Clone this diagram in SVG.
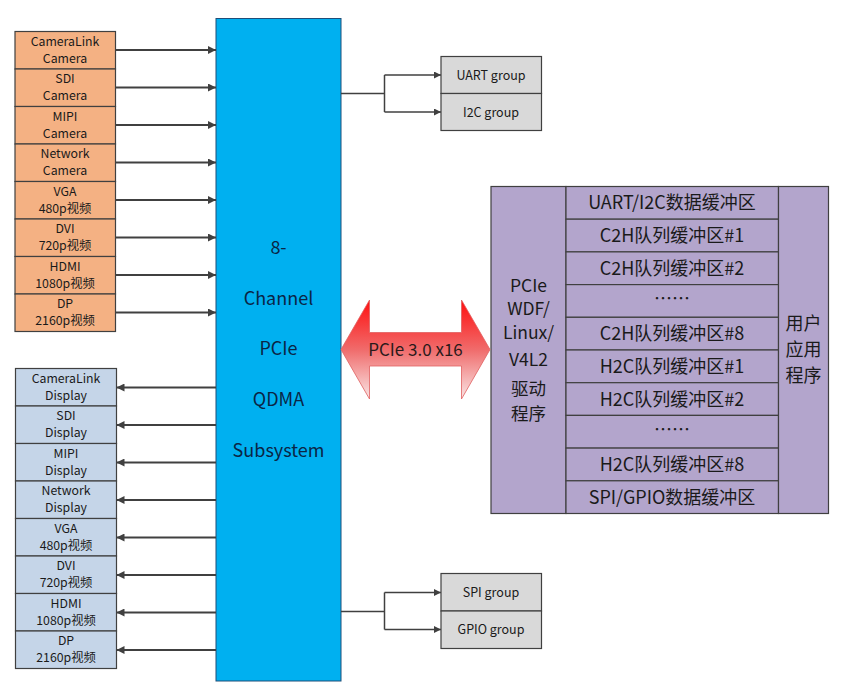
<svg xmlns="http://www.w3.org/2000/svg" width="841" height="699" viewBox="0 0 841 699">
<defs>
<style>
text{font-family:"Noto Sans CJK SC","Noto Sans",sans-serif;text-anchor:middle;}
.src rect{fill:#F4B183;stroke:#404040;stroke-width:1.2;}
.dst rect{fill:#C5D5E8;stroke:#404040;stroke-width:1.2;}
.grp rect{fill:#D9D9D9;stroke:#404040;stroke-width:1.2;}
.drv rect{fill:#B3A5CC;stroke:#404040;stroke-width:1.2;}
.small{font-size:12.3px;fill:#1a1a1a;}
.grpt{font-size:12.5px;fill:#1a1a1a;}
.big{font-size:18px;fill:#1a1a1a;}
.side{font-size:17.5px;fill:#1a1a1a;}
.core{font-size:18px;fill:#0B2545;}
.conn line,.conn polyline{stroke:#404040;fill:none;}
</style>
<marker id="ah" viewBox="0 0 10 10" refX="10" refY="5" markerWidth="9" markerHeight="8" markerUnits="userSpaceOnUse" orient="auto">
<path d="M0,0 L10,5 L0,10 z" fill="#404040"/>
</marker>
<marker id="ah2" viewBox="0 0 10 10" refX="10" refY="5" markerWidth="8" markerHeight="7" markerUnits="userSpaceOnUse" orient="auto">
<path d="M0,0 L10,5 L0,10 z" fill="#404040"/>
</marker>
<linearGradient id="red" x1="0" y1="0" x2="0" y2="1">
<stop offset="0" stop-color="#FF0F0F"/>
<stop offset="0.5" stop-color="#F06B6B"/>
<stop offset="1" stop-color="#F9E6E6"/>
</linearGradient>
</defs>

<g id="core">
<rect x="216" y="18.5" width="125" height="662.5" fill="#00B0F0" stroke="#1F4E79" stroke-width="1"/>
<text class="core" x="278.5" y="254">8-</text>
<text class="core" x="278.5" y="305">Channel</text>
<text class="core" x="278.5" y="355">PCIe</text>
<text class="core" x="278.5" y="406">QDMA</text>
<text class="core" x="278.5" y="457">Subsystem</text>
</g>

<g id="src-cameralink" class="src"><rect x="15" y="31.5" width="100.5" height="37.5"/><text class="small" x="65" y="45.5">CameraLink</text><text class="small" x="65" y="62.5">Camera</text></g>
<g id="src-sdi" class="src"><rect x="15" y="69" width="100.5" height="37.5"/><text class="small" x="65" y="83">SDI</text><text class="small" x="65" y="100">Camera</text></g>
<g id="src-mipi" class="src"><rect x="15" y="106.5" width="100.5" height="37.5"/><text class="small" x="65" y="120.5">MIPI</text><text class="small" x="65" y="137.5">Camera</text></g>
<g id="src-network" class="src"><rect x="15" y="144" width="100.5" height="37.5"/><text class="small" x="65" y="158">Network</text><text class="small" x="65" y="175">Camera</text></g>
<g id="src-vga" class="src"><rect x="15" y="181.5" width="100.5" height="37.5"/><text class="small" x="65" y="195.5">VGA</text><text class="small" x="65" y="212.5">480p视频</text></g>
<g id="src-dvi" class="src"><rect x="15" y="219" width="100.5" height="37.5"/><text class="small" x="65" y="233">DVI</text><text class="small" x="65" y="250">720p视频</text></g>
<g id="src-hdmi" class="src"><rect x="15" y="256.5" width="100.5" height="37.5"/><text class="small" x="65" y="270.5">HDMI</text><text class="small" x="65" y="287.5">1080p视频</text></g>
<g id="src-dp" class="src"><rect x="15" y="294" width="100.5" height="37.5"/><text class="small" x="65" y="308">DP</text><text class="small" x="65" y="325">2160p视频</text></g>

<g id="dst-cameralink" class="dst"><rect x="15.5" y="368.5" width="101" height="37.5"/><text class="small" x="66" y="382.5">CameraLink</text><text class="small" x="66" y="399.5">Display</text></g>
<g id="dst-sdi" class="dst"><rect x="15.5" y="406" width="101" height="37.5"/><text class="small" x="66" y="420">SDI</text><text class="small" x="66" y="437">Display</text></g>
<g id="dst-mipi" class="dst"><rect x="15.5" y="443.5" width="101" height="37.5"/><text class="small" x="66" y="457.5">MIPI</text><text class="small" x="66" y="474.5">Display</text></g>
<g id="dst-network" class="dst"><rect x="15.5" y="481" width="101" height="37.5"/><text class="small" x="66" y="495">Network</text><text class="small" x="66" y="512">Display</text></g>
<g id="dst-vga" class="dst"><rect x="15.5" y="518.5" width="101" height="37.5"/><text class="small" x="66" y="532.5">VGA</text><text class="small" x="66" y="549.5">480p视频</text></g>
<g id="dst-dvi" class="dst"><rect x="15.5" y="556" width="101" height="37.5"/><text class="small" x="66" y="570">DVI</text><text class="small" x="66" y="587">720p视频</text></g>
<g id="dst-hdmi" class="dst"><rect x="15.5" y="593.5" width="101" height="37.5"/><text class="small" x="66" y="607.5">HDMI</text><text class="small" x="66" y="624.5">1080p视频</text></g>
<g id="dst-dp" class="dst"><rect x="15.5" y="631" width="101" height="37.5"/><text class="small" x="66" y="645">DP</text><text class="small" x="66" y="662">2160p视频</text></g>

<g id="uart-group" class="grp"><rect x="441" y="56.5" width="100.5" height="37"/><text class="grpt" x="491" y="79.5">UART group</text></g>
<g id="i2c-group" class="grp"><rect x="441" y="93.5" width="100.5" height="37"/><text class="grpt" x="491" y="116.5">I2C group</text></g>
<g id="spi-group" class="grp"><rect x="441" y="573.5" width="100.5" height="37.5"/><text class="grpt" x="491" y="596.5">SPI group</text></g>
<g id="gpio-group" class="grp"><rect x="441" y="611" width="100.5" height="37.5"/><text class="grpt" x="491" y="634">GPIO group</text></g>

<g id="driver" class="drv">
<rect x="491" y="186.5" width="75" height="327"/>
<text class="side" x="528.5" y="292">PCIe</text>
<text class="side" x="528.5" y="315">WDF/</text>
<text class="side" x="528.5" y="339">Linux/</text>
<text class="side" x="528.5" y="366">V4L2</text>
<text class="side" x="528.5" y="395">驱动</text>
<text class="side" x="528.5" y="420">程序</text>
</g>
<g id="buffers" class="drv">
<rect x="566" y="186.5" width="212.5" height="32.7"/><text class="big" x="672" y="209">UART/I2C数据缓冲区</text>
<rect x="566" y="219.2" width="212.5" height="32.7"/><text class="big" x="672" y="242">C2H队列缓冲区#1</text>
<rect x="566" y="251.9" width="212.5" height="32.7"/><text class="big" x="672" y="274.5">C2H队列缓冲区#2</text>
<rect x="566" y="284.6" width="212.5" height="32.7"/><text class="big" x="672" y="305">……</text>
<rect x="566" y="317.3" width="212.5" height="32.7"/><text class="big" x="672" y="340">C2H队列缓冲区#8</text>
<rect x="566" y="350" width="212.5" height="32.7"/><text class="big" x="672" y="372.5">H2C队列缓冲区#1</text>
<rect x="566" y="382.7" width="212.5" height="32.7"/><text class="big" x="672" y="405.5">H2C队列缓冲区#2</text>
<rect x="566" y="415.4" width="212.5" height="32.7"/><text class="big" x="672" y="436">……</text>
<rect x="566" y="448.1" width="212.5" height="32.7"/><text class="big" x="672" y="471">H2C队列缓冲区#8</text>
<rect x="566" y="480.8" width="212.5" height="32.7"/><text class="big" x="672" y="503.5">SPI/GPIO数据缓冲区</text>
</g>
<g id="app" class="drv">
<rect x="778.5" y="186.5" width="50" height="327"/>
<text class="big" x="803.5" y="330">用户</text>
<text class="big" x="803.5" y="356">应用</text>
<text class="big" x="803.5" y="382">程序</text>
</g>

<g id="pcie-link">
<path d="M341,349.5 L369.5,300 L369.5,332.5 L461.5,332.5 L461.5,300 L490,349.5 L461.5,399 L461.5,366 L369.5,366 L369.5,399 Z" fill="url(#red)" stroke="#E06060" stroke-width="0.8"/>
<text x="415.5" y="355.5" style="font-size:17px;fill:#2a1a1a">PCIe 3.0 x16</text>
</g>

<g id="connectors" class="conn">
<line x1="115.5" y1="50" x2="216" y2="50" stroke-width="2.2" marker-end="url(#ah)"/>
<line x1="115.5" y1="87.5" x2="216" y2="87.5" stroke-width="2.2" marker-end="url(#ah)"/>
<line x1="115.5" y1="125" x2="216" y2="125" stroke-width="2.2" marker-end="url(#ah)"/>
<line x1="115.5" y1="162.5" x2="216" y2="162.5" stroke-width="2.2" marker-end="url(#ah)"/>
<line x1="115.5" y1="200" x2="216" y2="200" stroke-width="2.2" marker-end="url(#ah)"/>
<line x1="115.5" y1="237.5" x2="216" y2="237.5" stroke-width="2.2" marker-end="url(#ah)"/>
<line x1="115.5" y1="275" x2="216" y2="275" stroke-width="2.2" marker-end="url(#ah)"/>
<line x1="115.5" y1="312.5" x2="216" y2="312.5" stroke-width="2.2" marker-end="url(#ah)"/>

<line x1="216" y1="387.5" x2="116.5" y2="387.5" stroke-width="2.2" marker-end="url(#ah)"/>
<line x1="216" y1="425" x2="116.5" y2="425" stroke-width="2.2" marker-end="url(#ah)"/>
<line x1="216" y1="462.5" x2="116.5" y2="462.5" stroke-width="2.2" marker-end="url(#ah)"/>
<line x1="216" y1="500" x2="116.5" y2="500" stroke-width="2.2" marker-end="url(#ah)"/>
<line x1="216" y1="537.5" x2="116.5" y2="537.5" stroke-width="2.2" marker-end="url(#ah)"/>
<line x1="216" y1="575" x2="116.5" y2="575" stroke-width="2.2" marker-end="url(#ah)"/>
<line x1="216" y1="612.5" x2="116.5" y2="612.5" stroke-width="2.2" marker-end="url(#ah)"/>
<line x1="216" y1="650" x2="116.5" y2="650" stroke-width="2.2" marker-end="url(#ah)"/>

<line x1="341" y1="93.5" x2="384.5" y2="93.5" stroke-width="1.5"/>
<line x1="384.5" y1="75" x2="384.5" y2="112" stroke-width="1.5"/>
<line x1="384.5" y1="75" x2="441" y2="75" stroke-width="1.5" marker-end="url(#ah2)"/>
<line x1="384.5" y1="112" x2="441" y2="112" stroke-width="1.5" marker-end="url(#ah2)"/>

<line x1="341" y1="611.5" x2="384.5" y2="611.5" stroke-width="1.5"/>
<line x1="384.5" y1="592.5" x2="384.5" y2="629.5" stroke-width="1.5"/>
<line x1="384.5" y1="592.5" x2="441" y2="592.5" stroke-width="1.5" marker-end="url(#ah2)"/>
<line x1="384.5" y1="629.5" x2="441" y2="629.5" stroke-width="1.5" marker-end="url(#ah2)"/>
</g>
</svg>
